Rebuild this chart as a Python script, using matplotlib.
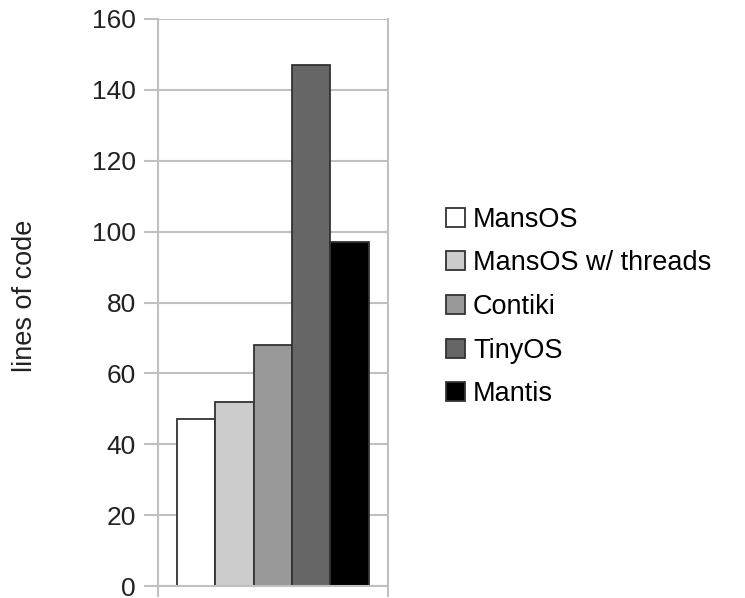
import matplotlib
matplotlib.use("Agg")
import matplotlib.pyplot as plt
from matplotlib.patches import Patch

categories = ["MansOS", "MansOS w/ threads", "Contiki", "TinyOS", "Mantis"]
values = [47, 52, 68, 147, 97]
colors = ["#ffffff", "#cccccc", "#999999", "#666666", "#000000"]
yticks = [0, 20, 40, 60, 80, 100, 120, 140, 160]

plt.rcParams['font.family'] = ['Liberation Sans', 'DejaVu Sans']
FS = 19.5

fig = plt.figure(figsize=(7.45, 5.98), dpi=100)
ax = fig.add_axes([158/745, 12/598, 230/745, 567/598])

grid_c = "#c0c0c0"
x = list(range(len(values)))
ax.bar(x, values, width=1.0, color=colors, edgecolor="#333333", linewidth=1.3, zorder=3)

ax.set_xlim(-1, len(values))
ax.set_ylim(0, 160)
ax.set_yticks(yticks)
ax.set_yticklabels([str(v) for v in yticks], fontsize=19, color="#222222")
ax.set_xticks([-1, len(values)])
ax.set_xticklabels([])
ax.yaxis.grid(True, color=grid_c, linewidth=1.5, zorder=0)
ax.set_axisbelow(True)
ax.tick_params(axis='y', length=10, width=1.5, color=grid_c, pad=6)
ax.tick_params(axis='x', length=8, width=1.5, color=grid_c)
for s in ['left', 'right', 'bottom']:
    ax.spines[s].set_color(grid_c)
    ax.spines[s].set_linewidth(1.5)
ax.spines['top'].set_visible(False)
ax.spines['bottom'].set_zorder(4)

fig.text(25/745, 1 - 296/598, "lines of code", rotation=90, ha='center', va='center',
         fontsize=FS, color="#222222")

handles = [Patch(facecolor=c, edgecolor="#333333", linewidth=1.3) for c in colors]
fig.legend(handles, categories, loc='center left', bbox_to_anchor=(446/745, 1 - 307/598),
           frameon=False, fontsize=FS, handlelength=0.7, handleheight=0.7,
           handletextpad=0.3, labelspacing=0.65, borderaxespad=0, borderpad=0)

fig.savefig("out.png", dpi=100)
